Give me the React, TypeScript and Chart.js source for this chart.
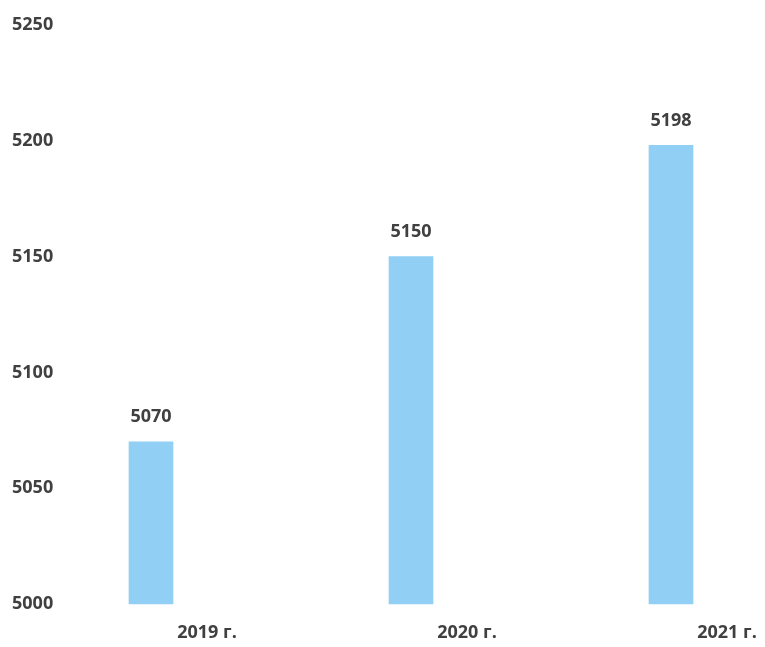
import React, { useEffect, useRef } from "react";
import { Chart, registerables } from "chart.js";

Chart.register(...registerables);

const categories = ["2019 г.", "2020 г.", "2021 г."];
const values = [5070, 5150, 5198];
const yMin = 5000;
const yMax = 5250;
const yStep = 50;

const FONT = "'Open Sans', sans-serif";
const TEXT_COLOR = "#404040";
const BAR_COLOR = "#92CFF4";

const valueLabels = {
  id: "valueLabels",
  afterDatasetsDraw(chart: any) {
    const ctx = chart.ctx;
    const meta = chart.getDatasetMeta(0);
    ctx.save();
    ctx.font = `700 18px ${FONT}`;
    ctx.fillStyle = TEXT_COLOR;
    ctx.textAlign = "center";
    ctx.textBaseline = "middle";
    meta.data.forEach((bar: any, i: number) => {
      ctx.fillText(String(values[i]), bar.x, bar.y - 25);
    });
    ctx.restore();
  },
};

export default function App() {
  const ref = useRef<HTMLCanvasElement | null>(null);
  useEffect(() => {
    if (!ref.current) return;
    const chart = new Chart(ref.current, {
      type: "bar",
      data: {
        labels: categories,
        datasets: [
          {
            data: values,
            backgroundColor: BAR_COLOR,
            borderWidth: 0,
            barThickness: 44,
            base: yMin,
            clip: false as any,
          } as any,
        ],
      },
      options: {
        animation: false,
        responsive: false,
        maintainAspectRatio: false,
        layout: { padding: { left: 12, right: 94, top: 25, bottom: 0 } },
        plugins: { legend: { display: false }, tooltip: { enabled: false } },
        scales: {
          x: {
            offset: false,
            grid: { display: false, drawTicks: false },
            border: { display: false },
            ticks: {
              labelOffset: 56,
              padding: 18,
              color: TEXT_COLOR,
              font: { family: FONT, size: 18, weight: "bold" },
              maxRotation: 0,
              autoSkip: false,
            },
            afterFit: (s: any) => {
              s.height = 43;
            },
          },
          y: {
            min: yMin,
            max: yMax,
            grid: { display: false, drawTicks: false },
            border: { display: false },
            ticks: {
              stepSize: yStep,
              crossAlign: "far",
              color: TEXT_COLOR,
              font: { family: FONT, size: 18, weight: "bold" },
              callback: (v: any) => String(v),
            },
            afterFit: (s: any) => {
              s.width = 139;
            },
          },
        },
      },
      plugins: [valueLabels],
    });
    return () => chart.destroy();
  }, []);
  return (
    <div style={{ position: "absolute", left: 0, top: 0, width: 765, height: 647, background: "#fff" }}>
      <canvas ref={ref} width={765} height={647} style={{ width: 765, height: 647 }} />
    </div>
  );
}
